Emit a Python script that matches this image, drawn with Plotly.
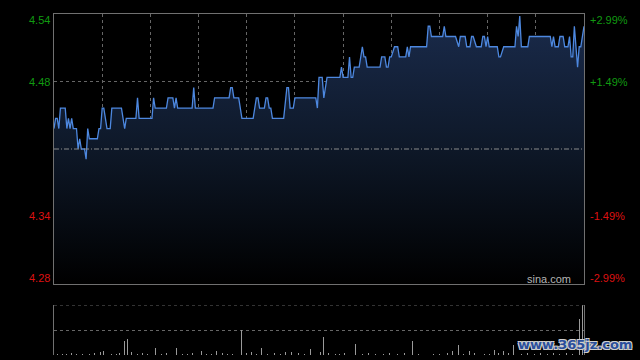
import plotly.graph_objects as go

# ---- intraday price (minute index from 9:30, HK session 330 minutes) ----
minutes = [0, 1, 2, 3, 4, 7, 8, 9, 10, 11, 12, 14, 15, 16, 17, 19, 20, 21, 22, 27,
           28, 29, 30, 31, 33, 35, 36, 42, 44, 45, 51, 52, 53, 61, 62, 63, 70, 71, 74, 75,
           76, 77, 86, 87, 88, 99, 100, 109, 110, 111, 112, 115, 117, 124, 126, 127, 128, 131, 132, 133,
           134, 135, 136, 143, 145, 146, 147, 149, 150, 163, 164, 165, 167, 168, 170, 178, 179, 180, 183, 184,
           185, 186, 187, 190, 192, 193, 194, 195, 203, 204, 206, 207, 208, 209, 210, 212, 214, 215, 219, 220,
           221, 222, 232, 233, 234, 235, 242, 243, 244, 250, 252, 253, 256, 257, 259, 260, 261, 263, 266, 267,
           268, 269, 270, 271, 276, 277, 278, 280, 287, 288, 289, 290, 291, 295, 296, 309, 310, 311, 312, 314,
           315, 317, 318, 320, 321, 322, 323, 324, 326, 327, 328, 330]
prices = [4.43, 4.44, 4.44, 4.43, 4.45, 4.45, 4.43, 4.44, 4.43, 4.44, 4.43, 4.43, 4.41, 4.42, 4.41, 4.41, 4.40, 4.43, 4.42, 4.42,
          4.43, 4.43, 4.45, 4.45, 4.43, 4.43, 4.45, 4.45, 4.43, 4.44, 4.44, 4.46, 4.44, 4.44, 4.46, 4.45, 4.45, 4.46, 4.46, 4.45,
          4.46, 4.45, 4.45, 4.47, 4.45, 4.45, 4.46, 4.46, 4.47, 4.47, 4.46, 4.46, 4.44, 4.44, 4.46, 4.46, 4.45, 4.45, 4.46, 4.46,
          4.45, 4.45, 4.44, 4.44, 4.47, 4.47, 4.45, 4.45, 4.46, 4.46, 4.45, 4.48, 4.48, 4.46, 4.48, 4.48, 4.49, 4.48, 4.48, 4.50,
          4.48, 4.48, 4.49, 4.49, 4.51, 4.50, 4.50, 4.49, 4.49, 4.50, 4.50, 4.49, 4.49, 4.50, 4.50, 4.51, 4.51, 4.50, 4.50, 4.51,
          4.50, 4.51, 4.51, 4.53, 4.53, 4.52, 4.52, 4.53, 4.52, 4.52, 4.51, 4.52, 4.52, 4.51, 4.51, 4.52, 4.52, 4.51, 4.51, 4.52,
          4.52, 4.51, 4.52, 4.51, 4.51, 4.50, 4.50, 4.51, 4.51, 4.53, 4.52, 4.54, 4.51, 4.51, 4.52, 4.52, 4.51, 4.52, 4.51, 4.51,
          4.52, 4.52, 4.51, 4.51, 4.52, 4.50, 4.50, 4.53, 4.49, 4.51, 4.51, 4.53]

prev_close = 4.41
y_low, y_high = 4.278, 4.542

# ---- volume ----
vol_minutes = [5, 22, 29, 31, 33, 44, 46, 48, 63, 76, 92, 101, 117, 123, 129, 144, 148, 160, 165, 166,
               168, 188, 223, 248, 252, 259, 264, 274, 280, 286, 327, 329, 330]
vol_values = [2, 2, 5, 7, 11, 27, 32, 5, 13, 13, 7, 7, 50, 5, 13, 5, 5, 11, 43, 5,
              35, 21, 27, 7, 19, 7, 7, 9, 7, 19, 73, 100, 30]
small_vol_minutes = [2, 8, 11, 14, 18, 25, 36, 39, 41, 52, 55, 58, 67, 70, 80, 83, 86, 95, 98, 105,
                     108, 111, 120, 126, 133, 137, 141, 152, 156, 171, 175, 178, 181, 192, 196, 200, 205, 209, 214, 218,
                     227, 231, 236, 240, 245, 255, 262, 268, 271, 277, 283, 291, 295, 299, 303, 307, 311, 315, 319, 323]
small_vol_values = [2, 2, 3, 2, 2, 3, 2, 2, 3, 2, 3, 2, 2, 3, 2, 2, 3, 2, 2, 3,
                    2, 2, 3, 2, 2, 3, 2, 3, 2, 3, 2, 2, 3, 2, 3, 2, 2, 3, 2, 3,
                    2, 3, 2, 2, 3, 2, 3, 2, 2, 3, 3, 2, 3, 2, 3, 2, 3, 2, 3, 2]
vol_top = 100

time_grid = [30, 60, 90, 120, 150, 180, 210, 240, 270, 300]
grid_levels = [4.3443, 4.4757]
left_labels = ["4.54", "4.48", "4.34", "4.28"]
right_labels = ["+2.99%", "+1.49%", "-1.49%", "-2.99%"]
label_levels = [4.542, 4.4757, 4.3443, 4.278]
label_shift = [-6, 0, 0, 6]
label_colors = ["#119a11", "#119a11", "#dd1111", "#dd1111"]

FONT = "Liberation Sans, Arial, sans-serif"
GRID = "#666666"
BORDER = "#707070"

fig = go.Figure()

fig.add_trace(go.Scatter(
    x=minutes, y=prices, mode="lines",
    line=dict(color="#4d88e0", width=1.3),
    fill="tozeroy",
    fillgradient=dict(type="vertical", start=y_low, stop=y_high,
                      colorscale=[[0, "#000000"], [0.5, "#0e1828"], [1, "#1a2b4c"]]),
    xaxis="x", yaxis="y", hoverinfo="skip", showlegend=False,
))

fig.add_trace(go.Bar(
    x=vol_minutes + small_vol_minutes, y=vol_values + small_vol_values,
    width=0.6, marker=dict(color="#9a9a9a", line=dict(width=0)),
    xaxis="x2", yaxis="y2", hoverinfo="skip", showlegend=False,
))

fig.update_layout(
    width=640, height=360,
    margin=dict(l=54, r=56, t=14, b=5),
    paper_bgcolor="#000000", plot_bgcolor="#000000",
    bargap=0,
    xaxis=dict(domain=[0, 1], range=[0, 330], tickvals=time_grid, showticklabels=False,
               showgrid=True, gridcolor=GRID, griddash="dot", gridwidth=1,
               showline=True, linecolor=BORDER, linewidth=1, mirror=True,
               zeroline=False, ticks="", anchor="y"),
    yaxis=dict(domain=[0.2082, 1], range=[y_low, y_high], tickvals=grid_levels,
               showticklabels=False, showgrid=True, gridcolor=GRID, griddash="dot",
               showline=True, linecolor=BORDER, linewidth=1, mirror=True,
               zeroline=False, ticks=""),
    xaxis2=dict(domain=[0, 1], range=[0, 330], showticklabels=False, showgrid=False,
                showline=False, zeroline=False, ticks="", anchor="y2"),
    yaxis2=dict(domain=[0, 0.1466], range=[0, vol_top], tickvals=[vol_top / 2],
                showticklabels=False, showgrid=True, gridcolor=GRID, griddash="dot",
                showline=True, linecolor=BORDER, linewidth=1, mirror=True,
                zeroline=False, ticks=""),
    shapes=[
        dict(type="line", xref="x", yref="y", x0=0, x1=330, y0=prev_close, y1=prev_close,
             line=dict(color="#8a8a8a", width=1, dash="5px,2px,1px,2px")),
        dict(type="line", xref="x2", yref="y2", x0=0, x1=330, y0=vol_top, y1=vol_top,
             line=dict(color=GRID, width=1, dash="dot")),
    ],
)

for txt_l, txt_r, lvl, sh, col in zip(left_labels, right_labels, label_levels, label_shift, label_colors):
    fig.add_annotation(text=txt_l, xref="paper", x=0, xanchor="right", xshift=-2,
                       yref="y", y=lvl, yanchor="middle", yshift=sh, showarrow=False,
                       font=dict(family=FONT, size=11, color=col))
    fig.add_annotation(text=txt_r, xref="paper", x=1, xanchor="left", xshift=4,
                       yref="y", y=lvl, yanchor="middle", yshift=sh, showarrow=False,
                       font=dict(family=FONT, size=11, color=col))

fig.add_annotation(text="sina.com", xref="paper", x=0.979, xanchor="right",
                   yref="paper", y=0.222, yanchor="middle", showarrow=False,
                   font=dict(family=FONT, size=11, color="#b4b4b4"))

fig.add_annotation(text="www.365jz.com", xref="paper", x=0.983, xanchor="center",
                   yref="paper", y=0.032, yanchor="middle", showarrow=False,
                   font=dict(family="DejaVu Sans, sans-serif", size=13, color="#2b4f9c",
                             weight="bold",
                             shadow="-1px -1px 0 #cfcfcf, 1px -1px 0 #cfcfcf, -1px 1px 0 #cfcfcf, 1px 1px 0 #cfcfcf"))

fig.write_html("out.html", config={"displayModeBar": False, "staticPlot": True},
               post_script="document.body.style.margin='0';document.body.style.background='#000';")
